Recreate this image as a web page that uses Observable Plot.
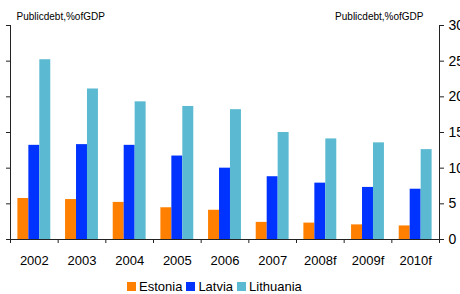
<!DOCTYPE html>
<html>
<head>
<meta charset="utf-8">
<script src="https://cdn.jsdelivr.net/npm/d3@7"></script>
<script src="https://cdn.jsdelivr.net/npm/@observablehq/plot@0.6"></script>
<style>
  html, body { margin: 0; padding: 0; background: #fff; }
  body { width: 460px; height: 294px; overflow: hidden; position: relative; font-family: "Liberation Sans", Arial, sans-serif; }
  #legend { position: absolute; top: 279px; left: 127px; display: flex; align-items: center; font-size: 13px; color: #000; line-height: 15px; }
  #legend .item { display: flex; align-items: center; margin-right: 4px; }
  #legend .sw { width: 9px; height: 9px; margin-right: 3px; }
</style>
</head>
<body>
<div id="chart"></div>
<div id="legend"></div>
<script>
const years = ["2002", "2003", "2004", "2005", "2006", "2007", "2008f", "2009f", "2010f"];
const countries = ["Estonia", "Latvia", "Lithuania"];
const estonia = [5.75, 5.6, 5.2, 4.45, 4.1, 2.4, 2.3, 2.05, 1.9];
const latvia = [13.2, 13.3, 13.2, 11.7, 10.0, 8.8, 7.9, 7.3, 7.05];
const lithuania = [25.2, 21.1, 19.3, 18.65, 18.2, 15.0, 14.1, 13.55, 12.6];
const colors = ["#ff8000", "#0033ff", "#5bbad1"];
const yTicks = [0, 5, 10, 15, 20, 25, 30];
const axisLabel = "Publicdebt,%ofGDP";

const series = [estonia, latvia, lithuania];
const groupWidth = 0.69;
const barWidth = groupWidth / countries.length;
const rows = [];
years.forEach((yr, i) => {
  countries.forEach((c, j) => {
    const x1 = i - groupWidth / 2 + j * barWidth;
    rows.push({year: yr, country: c, x1, x2: x1 + barWidth, value: series[j][i]});
  });
});
const xDomain = [-0.5, years.length - 0.5];
const boundaries = d3.range(years.length + 1).map(k => k - 0.5);
const centers = years.map((_, i) => i);
const axisColor = "#222";

const plot = Plot.plot({
  width: 460,
  height: 272,
  marginLeft: 10,
  marginRight: 21,
  marginTop: 25,
  marginBottom: 33,
  style: {fontFamily: "'Liberation Sans', Arial, sans-serif", color: "#000", background: "#fff", overflow: "visible"},
  x: {type: "linear", domain: xDomain, axis: null},
  y: {domain: [0, 30], axis: null},
  color: {domain: countries, range: colors},
  marks: [
    Plot.rectY(rows, {x1: "x1", x2: "x2", y: "value", fill: "country"}),
    Plot.ruleY([0], {stroke: axisColor}),
    Plot.ruleX(xDomain, {y1: 0, y2: 30, stroke: axisColor}),
    Plot.axisY({anchor: "left", ticks: yTicks, tickSize: 4, tickPadding: 9, fontSize: 14, stroke: axisColor, label: null}),
    Plot.axisY({anchor: "right", ticks: yTicks, tickSize: 4, tickPadding: 5, fontSize: 14, stroke: axisColor, label: null}),
    Plot.axisX({ticks: boundaries, tickSize: 4, tickFormat: () => "", stroke: axisColor, label: null}),
    Plot.axisX({ticks: centers, tickSize: 0, tickPadding: 16, tickFormat: i => years[i], fontSize: 13, label: null}),
    Plot.text([axisLabel], {frameAnchor: "top-left", textAnchor: "start", lineAnchor: "middle", dx: 6, dy: -8.3, fontSize: 10, letterSpacing: "-0.15px"}),
    Plot.text([axisLabel], {frameAnchor: "top-right", textAnchor: "end", lineAnchor: "middle", dx: -16, dy: -8.3, fontSize: 10, letterSpacing: "-0.15px"})
  ]
});
document.getElementById("chart").appendChild(plot);

const legend = d3.select("#legend");
countries.forEach((c, j) => {
  const item = legend.append("div").attr("class", "item");
  item.append("div").attr("class", "sw").style("background", colors[j]);
  item.append("span").text(c);
});
</script>
</body>
</html>
